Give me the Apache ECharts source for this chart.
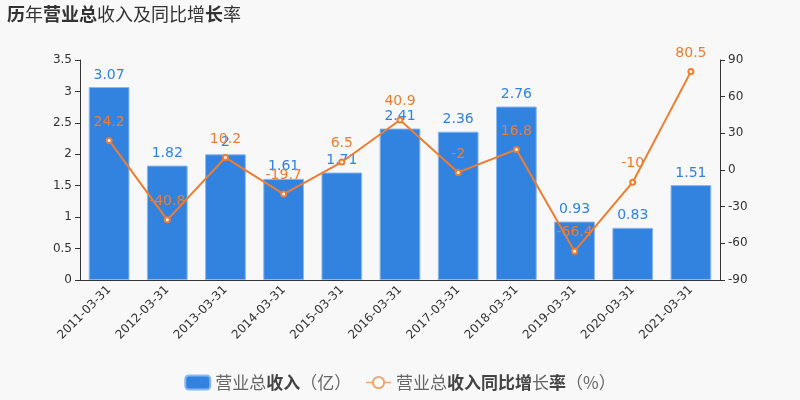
<!DOCTYPE html>
<html><head><meta charset="utf-8">
<script src="https://cdn.jsdelivr.net/npm/echarts@6/dist/echarts.min.js"></script>
<style>html,body{margin:0;padding:0;background:#f8f8f8}#c{width:800px;height:400px}</style>
</head><body><div id="c"></div>
<script>
const categories = ['2011-03-31','2012-03-31','2013-03-31','2014-03-31','2015-03-31','2016-03-31','2017-03-31','2018-03-31','2019-03-31','2020-03-31','2021-03-31'];
const revenue = [3.07,1.82,2.0,1.61,1.71,2.41,2.36,2.76,0.93,0.83,1.51];
const growth = [24.2,-40.8,10.2,-19.7,6.5,40.9,-2,16.8,-66.4,-10,80.5];
const leftTicks = {min:0,max:3.5,interval:0.5};
const rightTicks = {min:-90,max:90,interval:30};

const chart = echarts.init(document.getElementById('c'));
const ff = '"Noto Sans CJK SC","DejaVu Sans",sans-serif';
chart.setOption({
  backgroundColor:'#f8f8f8',
  animation:false,
  title:{
    text:'{b|历}{n|年}{b|营业总}{n|收入及同比增}{b|长}{n|率}',
    left:2, top:0,
    textStyle:{fontWeight:'normal',rich:{
      b:{fontSize:18,fontWeight:'bold',color:'#333',fontFamily:ff},
      n:{fontSize:18,fontWeight:'normal',color:'#333',fontFamily:ff}
    }}
  },
  legend:{
    bottom:4, left:'center', itemWidth:25, itemHeight:14, itemGap:14,
    data:[
      {name:'营业总收入（亿）',icon:'roundRect'},
      {name:'营业总收入同比增长率（%）',lineStyle:{width:1.5,color:'#f5a56e'},itemStyle:{color:'#f5a56e'}}
    ],
    formatter:function(n){
      if(n.indexOf('同比')>=0) return '{n|营业总}{b|收入同比增}{n|长}{b|率}{n|（%）}';
      return '{n|营业总}{b|收入}{n|（亿）}';
    },
    textStyle:{fontWeight:'normal',rich:{
      n:{fontSize:17,fontWeight:'normal',color:'#666',fontFamily:ff},
      b:{fontSize:17,color:'#444',fontWeight:'bold',fontFamily:ff}
    }}
  },
  grid:{left:80,right:80,top:60,bottom:120},
  xAxis:{
    type:'category', data:categories,
    axisLine:{lineStyle:{color:'#333'}},
    axisTick:{lineStyle:{color:'#333'}},
    axisLabel:{rotate:45,color:'#333',fontSize:12,interval:0,fontFamily:'"DejaVu Sans",sans-serif'}
  },
  yAxis:[
    {type:'value',min:leftTicks.min,max:leftTicks.max,interval:leftTicks.interval,
     splitLine:{show:false},axisLine:{show:true,lineStyle:{color:'#333'}},axisTick:{show:true},
     axisLabel:{color:'#333',fontSize:12,fontFamily:'"DejaVu Sans",sans-serif'}},
    {type:'value',min:rightTicks.min,max:rightTicks.max,interval:rightTicks.interval,
     splitLine:{show:false},axisLine:{show:true,lineStyle:{color:'#333'}},axisTick:{show:true},
     axisLabel:{color:'#333',fontSize:12,fontFamily:'"DejaVu Sans",sans-serif'}}
  ],
  series:[
    {name:'营业总收入（亿）',type:'bar',data:revenue,barWidth:'70%',
     itemStyle:{color:'#3282e0',borderColor:'#8ab8ef',borderWidth:1},
     label:{show:true,position:'top',color:'#3282e0',fontSize:14,fontFamily:'"DejaVu Sans",sans-serif'}},
    {name:'营业总收入同比增长率（%）',type:'line',yAxisIndex:1,data:growth,
     symbol:'emptyCircle',symbolSize:5,
     lineStyle:{color:'#ee7d31',width:2},itemStyle:{color:'#ee7d31'},
     label:{show:true,position:'top',color:'#ee7d31',fontSize:14,distance:8,fontFamily:'"DejaVu Sans",sans-serif'}}
  ]
});
</script></body></html>
